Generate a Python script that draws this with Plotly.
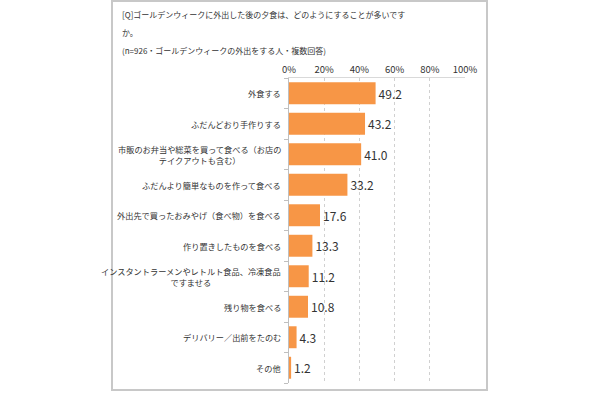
import plotly.graph_objects as go

categories = [
    "外食する",
    "ふだんどおり手作りする",
    "市販のお弁当や総菜を買って食べる（お店の<br>テイクアウトも含む）",
    "ふだんより簡単なものを作って食べる",
    "外出先で買ったおみやげ（食べ物）を食べる",
    "作り置きしたものを食べる",
    "インスタントラーメンやレトルト食品、冷凍食品<br>ですませる",
    "残り物を食べる",
    "デリバリー／出前をたのむ",
    "その他",
]
values = [49.2, 43.2, 41.0, 33.2, 17.6, 13.3, 11.2, 10.8, 4.3, 1.2]
x_ticks = [0, 20, 40, 60, 80, 100]
x_tick_labels = ["0%", "20%", "40%", "60%", "80%", "100%"]
title_lines = [
    "[Q]ゴールデンウィークに外出した後の夕食は、どのようにすることが多いです",
    "か。",
    "(n=926・ゴールデンウィークの外出をする人・複数回答)",
]

FONT = "Noto Sans CJK JP"
W, H = 600, 394
PL, PR, PT, PB = 289, 465, 78, 383  # plot area in pixels

def fx(xpix):
    return xpix / W

def fy(ypix):
    return (H - ypix) / H

idx = list(range(len(categories)))

fig = go.Figure()
fig.add_trace(go.Bar(
    y=idx, x=values, orientation="h",
    marker=dict(color="#F79646", line=dict(width=0)),
    text=[f"{v:.1f}" for v in values],
    textposition="outside",
    textfont=dict(family=FONT, size=12, color="#333333"),
    cliponaxis=False,
    hoverinfo="skip",
))

annotations = []
for i, c in enumerate(categories):
    annotations.append(dict(
        x=fx(283), xref="paper", y=i, yref="y",
        text=c, showarrow=False, xanchor="right", yanchor="middle",
        align="center", font=dict(family=FONT, size=8.2, color="#333333"),
    ))
for line, ypix in zip(title_lines, [15, 33, 50]):
    annotations.append(dict(
        x=fx(120), xref="paper", y=fy(ypix), yref="paper",
        text=line, showarrow=False, xanchor="left", yanchor="middle",
        align="left", font=dict(family=FONT, size=8, color="#333333"),
    ))

frame_x = [fx(112), fx(487), fx(487), fx(112), fx(112)]
frame_y = [fy(1), fy(1), fy(390), fy(390), fy(1)]

fig.update_layout(
    width=W, height=H,
    margin=dict(l=0, r=0, t=0, b=0, pad=0),
    paper_bgcolor="white", plot_bgcolor="white",
    showlegend=False,
    bargap=0.28,
    annotations=annotations,
    shapes=[dict(
        type="path", xref="paper", yref="paper",
        path="M {} {} L {} {} L {} {} L {} {} Z".format(
            frame_x[0], frame_y[0], frame_x[1], frame_y[1],
            frame_x[2], frame_y[2], frame_x[3], frame_y[3]),
        line=dict(color="#c8c8c8", width=2),
    )],
    xaxis=dict(
        domain=[fx(PL), fx(PR)],
        side="top", range=[0, 100], tickvals=x_ticks, ticktext=x_tick_labels,
        tickfont=dict(family=FONT, size=9.5, color="#333333"),
        showgrid=True, gridcolor="#d0d0d0", griddash="dot", gridwidth=1,
        zeroline=False, showline=True, linecolor="#d9d9d9", linewidth=1,
        ticks="", fixedrange=True, automargin=False,
    ),
    yaxis=dict(
        domain=[fy(PB), fy(PT)],
        type="linear", range=[len(categories) - 0.5, -0.5],
        tickvals=[i - 0.5 for i in range(len(categories) + 1)],
        showticklabels=False, ticks="outside", ticklen=4, tickcolor="#bfbfbf",
        showgrid=False, zeroline=False, showline=True, linecolor="#bfbfbf",
        linewidth=1, fixedrange=True, automargin=False,
    ),
)

fig.write_html("out.html", config={"displayModeBar": False},
               post_script="document.body.style.margin='0';")
